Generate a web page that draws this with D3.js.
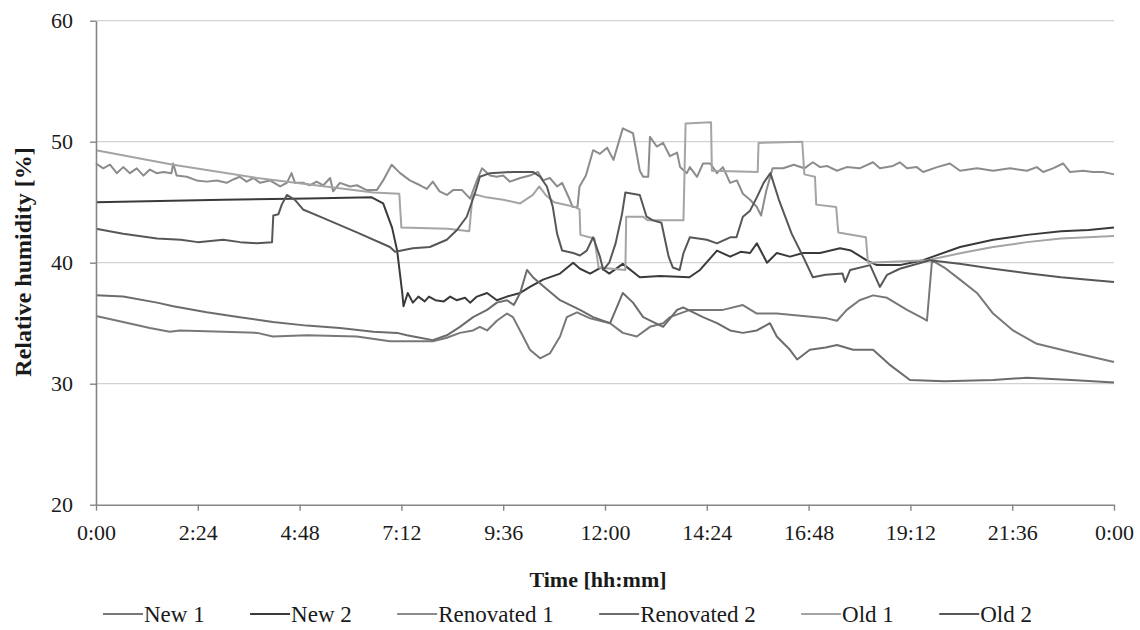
<!DOCTYPE html>
<html>
<head>
<meta charset="utf-8">
<script src="https://cdn.jsdelivr.net/npm/d3@7"></script>
<style>
  body { margin: 0; background: #fff; }
  svg { display: block; }
  text { font-family: "Liberation Serif", "Times New Roman", serif; fill: #1a1a1a; }
</style>
</head>
<body>
<svg id="chart" width="1140" height="630"></svg>
<script>
// Axis ticks: time of day in hours, labelled hh:mm
const tickHours = [0, 2.4, 4.8, 7.2, 9.6, 12, 14.4, 16.8, 19.2, 21.6, 24];
const tickLabels = ["0:00", "2:24", "4:48", "7:12", "9:36", "12:00", "14:24", "16:48", "19:12", "21:36", "0:00"];
const humidityTicks = [20, 30, 40, 50, 60];

const seriesNames = ["New 1", "New 2", "Renovated 1", "Renovated 2", "Old 1", "Old 2"];

// Relative humidity readings [hour, %RH] for each dwelling
const new1 = [[0,35.6],[0.64,35.1],[1.27,34.6],[1.74,34.3],[1.98,34.4],[3.0,34.3],[3.8,34.2],[4.17,33.9],[4.97,34.0],[6.15,33.9],[6.93,33.5],[7.17,33.5],[7.94,33.5],[8.27,33.8],[8.58,34.2],[8.89,34.4],[9.05,34.7],[9.22,34.4],[9.45,35.2],[9.69,35.8],[9.83,35.5],[10.07,33.9],[10.23,32.8],[10.47,32.1],[10.7,32.5],[10.94,33.9],[11.1,35.5],[11.34,35.9],[11.65,35.4],[12.12,35.0],[12.42,34.2],[12.75,33.9],[13.06,34.7],[13.37,35.0],[13.53,35.5],[14.0,36.1],[14.78,36.1],[15.25,36.5],[15.58,35.8],[16.05,35.8],[16.67,35.6],[17.23,35.4],[17.47,35.2],[17.7,36.1],[18.0,36.9],[18.32,37.3],[18.65,37.1],[19.12,36.1],[19.5,35.4],[19.59,35.2],[19.71,40.2],[20.0,39.6],[20.37,38.6],[20.77,37.5],[21.15,35.8],[21.62,34.4],[22.18,33.3],[23.13,32.5],[24,31.8]];

const new2 = [[0,45.0],[1.5,45.1],[3,45.2],[5,45.3],[6.5,45.4],[6.77,44.9],[6.98,42.9],[7.1,41.0],[7.22,37.5],[7.25,36.4],[7.35,37.5],[7.47,36.7],[7.6,37.2],[7.75,36.8],[7.85,37.2],[8.0,36.9],[8.2,36.8],[8.35,37.2],[8.5,36.9],[8.7,37.1],[8.82,36.7],[8.98,37.2],[9.22,37.5],[9.45,36.9],[9.69,37.2],[10.0,37.5],[10.23,38.0],[10.54,38.6],[10.94,39.1],[11.25,40.0],[11.41,39.5],[11.65,39.1],[11.9,39.6],[12.1,39.1],[12.42,39.9],[12.82,38.8],[13.3,38.9],[13.99,38.8],[14.24,39.4],[14.64,41.0],[14.95,40.5],[15.2,40.9],[15.42,40.8],[15.58,41.6],[15.82,40.0],[16.05,40.8],[16.36,40.5],[16.67,40.8],[17.07,40.8],[17.54,41.2],[17.8,41.0],[18.17,40.2],[18.41,39.8],[18.95,39.8],[19.5,40.2],[19.73,40.5],[20.37,41.3],[21.15,41.9],[21.95,42.3],[22.75,42.6],[23.4,42.7],[24,42.9]];

const renovated1 = [[0,48.2],[0.17,47.8],[0.33,48.1],[0.49,47.4],[0.64,47.9],[0.8,47.4],[0.96,47.8],[1.12,47.2],[1.27,47.7],[1.43,47.4],[1.59,47.5],[1.78,47.4],[1.82,48.2],[1.9,47.2],[2.14,47.1],[2.37,46.8],[2.61,46.7],[2.85,46.8],[3.08,46.6],[3.25,46.9],[3.39,47.1],[3.55,46.7],[3.71,47.0],[3.87,46.6],[4.1,46.8],[4.34,46.3],[4.5,46.6],[4.61,47.4],[4.69,46.6],[4.89,46.6],[5.04,46.4],[5.2,46.7],[5.36,46.4],[5.52,47.0],[5.59,45.9],[5.75,46.6],[5.99,46.3],[6.15,46.4],[6.38,46.0],[6.62,46.0],[6.77,46.8],[6.97,48.1],[7.17,47.4],[7.4,46.8],[7.64,46.4],[7.8,46.1],[7.94,46.7],[8.1,45.9],[8.27,45.6],[8.42,46.0],[8.63,46.0],[8.82,45.3],[8.98,46.8],[9.1,47.8],[9.29,47.2],[9.45,47.1],[9.6,47.2],[9.76,46.7],[10.0,47.0],[10.23,47.2],[10.42,47.5],[10.54,46.8],[10.7,47.0],[10.87,46.3],[10.99,46.6],[11.17,45.2],[11.24,44.6],[11.35,44.6],[11.4,46.3],[11.55,47.2],[11.72,49.3],[11.88,49.0],[12.05,49.5],[12.2,48.5],[12.36,50.4],[12.42,51.1],[12.66,50.7],[12.82,47.6],[12.9,47.1],[13.02,47.1],[13.06,50.4],[13.22,49.6],[13.37,49.9],[13.53,48.8],[13.7,49.1],[13.77,47.9],[13.93,47.4],[14.0,47.9],[14.17,47.1],[14.31,48.2],[14.48,48.2],[14.64,47.4],[14.78,47.9],[14.95,46.6],[15.11,46.8],[15.25,45.7],[15.42,45.2],[15.58,44.6],[15.68,43.9],[15.8,45.9],[15.95,47.8],[16.2,47.8],[16.45,48.1],[16.7,47.8],[16.9,48.3],[17.07,47.9],[17.23,48.0],[17.47,47.6],[17.7,47.9],[18.0,47.8],[18.32,48.3],[18.48,47.8],[18.79,48.0],[18.95,48.3],[19.12,47.8],[19.35,47.9],[19.5,47.5],[19.83,47.9],[20.13,48.2],[20.37,47.6],[20.77,47.8],[21.15,47.6],[21.55,47.8],[21.95,47.6],[22.18,47.9],[22.33,47.5],[22.56,47.8],[22.8,48.2],[22.96,47.5],[23.27,47.6],[23.5,47.5],[23.74,47.5],[24,47.3]];

const renovated2 = [[0,37.3],[0.64,37.2],[1.44,36.7],[1.82,36.4],[2.61,35.9],[3.39,35.5],[4.17,35.1],[4.97,34.8],[5.75,34.6],[6.54,34.3],[7.1,34.2],[7.33,34.0],[7.64,33.8],[7.94,33.6],[8.27,34.0],[8.58,34.7],[8.89,35.5],[9.22,36.1],[9.45,36.7],[9.69,36.9],[9.85,36.5],[10.0,37.5],[10.16,39.4],[10.3,38.8],[10.63,37.8],[10.94,36.9],[11.41,36.1],[11.72,35.5],[12.12,35.0],[12.3,36.5],[12.42,37.5],[12.66,36.7],[12.9,35.5],[13.37,34.7],[13.7,36.1],[13.84,36.3],[14.31,35.5],[14.64,35.0],[14.95,34.4],[15.25,34.2],[15.58,34.4],[15.89,35.0],[16.05,33.9],[16.36,32.8],[16.53,32.0],[16.83,32.8],[17.2,33.0],[17.47,33.2],[17.85,32.8],[18.32,32.8],[18.7,31.6],[19.19,30.3],[20.0,30.2],[21.15,30.3],[21.95,30.5],[23.0,30.3],[24,30.1]];

const old1 = [[0,49.3],[1.82,48.1],[3.8,47.0],[6.54,45.8],[7.15,45.7],[7.2,42.9],[8.3,42.8],[8.8,42.6],[8.88,45.7],[9.2,45.4],[9.6,45.2],[10.0,44.9],[10.3,45.6],[10.45,46.3],[10.6,45.6],[10.8,45.0],[11.3,44.6],[11.4,44.4],[11.42,42.3],[11.75,42.0],[11.85,39.6],[12.48,39.4],[12.5,43.8],[12.9,43.8],[13.0,43.5],[13.85,43.5],[13.9,51.5],[14.5,51.6],[14.52,47.6],[15.6,47.5],[15.62,49.9],[16.65,50.0],[16.7,47.3],[16.95,47.1],[16.98,44.8],[17.45,44.6],[17.5,42.5],[18.15,42.1],[18.2,40.0],[19.6,40.2],[20.4,40.8],[21.15,41.3],[21.95,41.7],[22.75,42.0],[24,42.2]];

const old2 = [[0,42.8],[0.64,42.4],[1.44,42.0],[2.0,41.9],[2.4,41.7],[3.0,41.9],[3.4,41.7],[3.8,41.6],[4.15,41.7],[4.18,43.9],[4.3,44.0],[4.38,44.8],[4.5,45.6],[4.69,45.2],[4.88,44.4],[5.35,43.7],[6.15,42.5],[6.93,41.3],[7.05,40.9],[7.47,41.2],[7.87,41.3],[8.27,41.9],[8.51,42.7],[8.74,43.8],[8.93,45.7],[9.05,47.1],[9.29,47.4],[9.83,47.5],[10.3,47.5],[10.47,47.1],[10.63,46.3],[10.77,44.6],[10.87,42.4],[10.99,41.0],[11.25,40.8],[11.41,40.6],[11.57,41.0],[11.72,42.1],[11.88,40.5],[11.96,39.4],[12.1,40.0],[12.25,41.6],[12.4,44.0],[12.48,45.8],[12.82,45.6],[12.98,43.8],[13.13,43.5],[13.33,43.3],[13.5,40.5],[13.6,39.6],[13.76,39.4],[13.85,40.8],[14.0,42.1],[14.4,41.9],[14.64,41.6],[14.95,42.1],[15.1,42.1],[15.25,43.8],[15.42,44.3],[15.58,45.4],[15.74,46.6],[15.9,47.4],[16.1,45.2],[16.4,42.4],[16.67,40.5],[16.9,38.8],[17.2,39.0],[17.6,39.1],[17.66,38.4],[17.78,39.4],[18.25,39.8],[18.48,38.0],[18.65,39.0],[18.95,39.5],[19.66,40.2],[20.4,39.9],[21.15,39.5],[22.0,39.1],[22.75,38.8],[23.4,38.6],[24,38.4]];

const seriesData = [new1, new2, renovated1, renovated2, old1, old2];
const seriesColors = ["#787878", "#3a3a3a", "#8c8c8c", "#6c6c6c", "#a4a4a4", "#575757"];

const svg = d3.select("#chart");
svg.append("rect").attr("width", 1140).attr("height", 630).attr("fill", "#fff");

const x = d3.scaleLinear().domain([0, 24]).range([96, 1114]);
const y = d3.scaleLinear().domain([20, 60]).range([504.7, 20.7]);

// Horizontal gridlines
svg.append("g")
  .selectAll("line")
  .data(humidityTicks.filter(d => d > 20))
  .join("line")
  .attr("x1", x(0)).attr("x2", x(24))
  .attr("y1", d => y(d)).attr("y2", d => y(d))
  .attr("stroke", "#d2d2d2")
  .attr("stroke-width", 1.2);

// Data lines
const line = d3.line().x(d => x(d[0])).y(d => y(d[1]));
svg.append("g")
  .selectAll("path")
  .data(seriesData)
  .join("path")
  .attr("d", line)
  .attr("fill", "none")
  .attr("stroke", (d, i) => seriesColors[i])
  .attr("stroke-width", 2)
  .attr("stroke-linejoin", "round");

// Axes
const xAxis = d3.axisBottom(x)
  .tickValues(tickHours)
  .tickFormat((d, i) => tickLabels[i])
  .tickSize(6)
  .tickSizeOuter(0)
  .tickPadding(14);
const yAxis = d3.axisLeft(y)
  .tickValues(humidityTicks)
  .tickSize(6)
  .tickSizeOuter(0)
  .tickPadding(17);

const gx = svg.append("g").attr("transform", `translate(0,${y(20)})`).call(xAxis);
const gy = svg.append("g").attr("transform", `translate(${x(0)},0)`).call(yAxis);
[gx, gy].forEach(g => {
  g.select(".domain").attr("stroke", "#858585").attr("stroke-width", 1.6);
  g.selectAll(".tick line").attr("stroke", "#858585").attr("stroke-width", 1.4);
  g.selectAll(".tick text")
    .style("font-family", '"Liberation Serif", "Times New Roman", serif')
    .style("font-size", "22px")
    .attr("fill", "#1a1a1a");
});

// Axis titles
svg.append("text")
  .attr("x", 598).attr("y", 587)
  .attr("text-anchor", "middle")
  .style("font-size", "22px").style("font-weight", "bold")
  .text("Time [hh:mm]");
svg.append("text")
  .attr("transform", "translate(31,262) rotate(-90)")
  .attr("text-anchor", "middle")
  .style("font-size", "24px").style("font-weight", "bold")
  .text("Relative humidity [%]");

// Legend along the bottom
const legend = svg.append("g");
const dashLen = 40;
const items = seriesNames.map((name, i) => {
  const g = legend.append("g");
  g.append("line")
    .attr("x1", 0).attr("x2", dashLen)
    .attr("y1", -8).attr("y2", -8)
    .attr("stroke", seriesColors[i]).attr("stroke-width", 2);
  const t = g.append("text")
    .attr("x", dashLen + 1).attr("y", 0)
    .style("font-size", "23px")
    .text(name);
  return { g, w: dashLen + 1 + t.node().getComputedTextLength() };
});
const legendLeft = 103, legendRight = 1032;
const gap = (legendRight - legendLeft - d3.sum(items, d => d.w)) / (items.length - 1);
let cursor = legendLeft;
items.forEach(it => {
  it.g.attr("transform", `translate(${cursor},622)`);
  cursor += it.w + gap;
});
</script>
</body>
</html>
